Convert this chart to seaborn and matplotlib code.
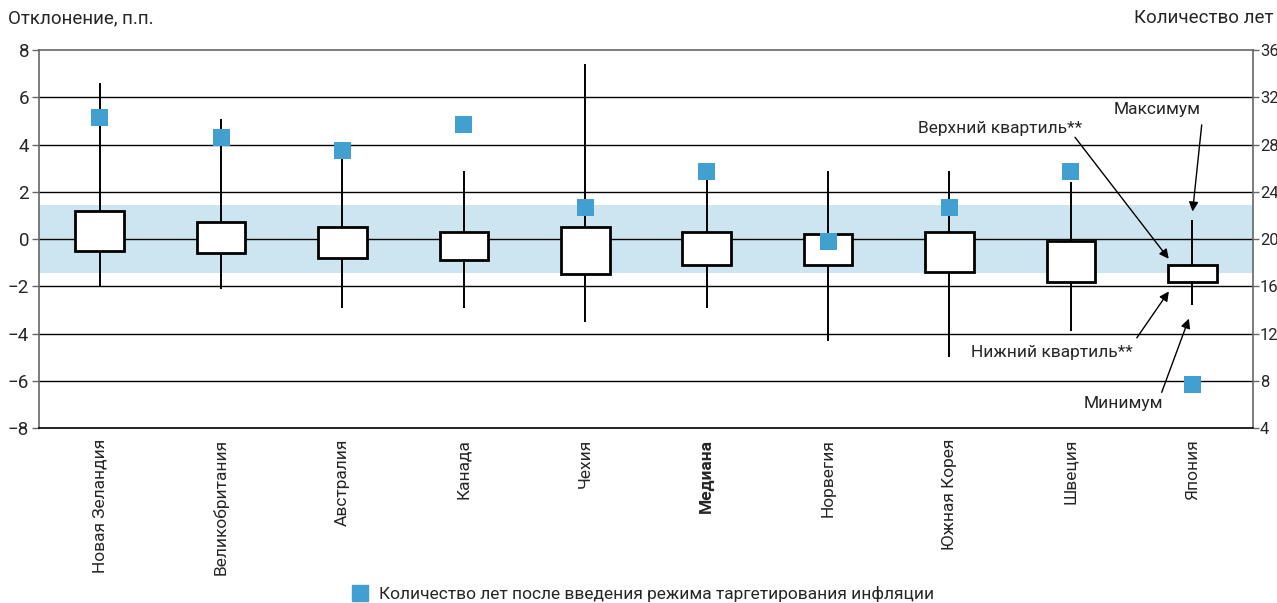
import pandas as pd
import seaborn as sns
import matplotlib.pyplot as plt
from matplotlib.lines import Line2D
from matplotlib.ticker import FixedLocator

sns.set_style('white')
plt.rcParams['font.family'] = ['Roboto', 'DejaVu Sans']

countries = ['Новая Зеландия', 'Великобритания', 'Австралия', 'Канада', 'Чехия',
             'Медиана', 'Норвегия', 'Южная Корея', 'Швеция', 'Япония']
dev_min = [-2.0, -2.1, -2.9, -2.9, -3.5, -2.9, -4.3, -5.0, -3.9, -2.8]
dev_q1 = [-0.5, -0.6, -0.8, -0.9, -1.5, -1.1, -1.1, -1.4, -1.8, -1.8]
dev_q3 = [1.2, 0.7, 0.5, 0.3, 0.5, 0.3, 0.2, 0.3, -0.1, -1.1]
dev_max = [6.6, 5.1, 3.6, 2.9, 7.4, 2.7, 2.9, 2.9, 2.4, 0.8]
years = [30.3, 28.6, 27.5, 29.7, 22.7, 25.7, 19.8, 22.7, 25.7, 7.7]

BLUE = '#41a0d0'
BAND = '#cde5f0'

# five points per country -> with whis=(0, 100) the box spans q1..q3, whiskers min..max
rows = []
for c, a, b, d, e in zip(countries, dev_min, dev_q1, dev_q3, dev_max):
    for v in (a, b, (b + d) / 2, d, e):
        rows.append({'country': c, 'value': v})
df = pd.DataFrame(rows)
df_years = pd.DataFrame({'country': countries, 'years': years})

fig = plt.figure(figsize=(12.77, 6.03), dpi=100)
ax = fig.add_axes([0.0305, 0.2902, 0.9507, 0.6268])

ax.axhspan(-1.45, 1.45, color=BAND, lw=0, zorder=0)
for y in range(-6, 8, 2):
    ax.axhline(y, color='black', lw=1.0, zorder=0.5)

sns.boxplot(data=df, x='country', y='value', whis=(0, 100), width=0.4,
            color='white', linecolor='black', linewidth=2.0, showcaps=False,
            medianprops={'visible': False},
            whiskerprops={'linewidth': 1.4}, ax=ax, zorder=2)

ax.set_ylim(-8, 8)
ax.set_xlim(-0.5, 9.5)
ax.set_yticks(range(-8, 9, 2))
ax.set_yticklabels([str(v).replace('-', '\u2212') for v in range(-8, 9, 2)], fontsize=13.5)
ax.set_xlabel('')
ax.set_ylabel('')
ax.tick_params(axis='y', direction='out', length=5, width=1, color='#666666', pad=2)
ax.tick_params(axis='x', which='major', length=0, pad=8)
ax.xaxis.set_minor_locator(FixedLocator([i - 0.5 for i in range(11)]))
ax.tick_params(axis='x', which='minor', direction='out', length=5, width=1, color='#666666')
ax.set_xticks(range(len(countries)))
ax.set_xticklabels(countries, rotation=90, fontsize=12.5)
for lab in ax.get_xticklabels():
    if lab.get_text() == 'Медиана':
        lab.set_fontweight('bold')

for side in ['left', 'right', 'top', 'bottom']:
    ax.spines[side].set_color('#666666')
    ax.spines[side].set_linewidth(1.2)
ax.spines['bottom'].set_color('black')

ax2 = ax.twinx()
sns.scatterplot(data=df_years, x='country', y='years', marker='s', s=150,
                color=BLUE, edgecolor='none', ax=ax2, zorder=5, legend=False)
ax2.set_ylim(4, 36)
ax2.set_yticks(range(4, 37, 4))
ax2.set_yticklabels([str(v) for v in range(4, 37, 4)], fontsize=12)
ax2.set_ylabel('')
ax2.tick_params(axis='y', direction='out', length=4, width=1, color='#666666', pad=1)
for side in ['left', 'right', 'top', 'bottom']:
    ax2.spines[side].set_visible(False)
ax2.set_xlim(-0.5, 9.5)

fig.text(0.006, 0.97, 'Отклонение, п.п.', fontsize=13.5, ha='left', va='center')
fig.text(0.997, 0.97, 'Количество лет', fontsize=13.5, ha='right', va='center')

arrow = dict(arrowstyle='-|>', color='black', lw=1.0, mutation_scale=14)
ax.text(8.71, 5.47, 'Максимум', fontsize=12.5, ha='center', va='center')
ax.annotate('', xy=(9.0, 1.05), xytext=(9.08, 4.95), arrowprops=arrow)
ax.text(7.42, 4.7, 'Верхний квартиль**', fontsize=12.5, ha='center', va='center')
ax.annotate('', xy=(8.82, -0.93), xytext=(8.02, 4.4), arrowprops=arrow)
ax.text(7.84, -4.8, 'Нижний квартиль**', fontsize=12.5, ha='center', va='center')
ax.annotate('', xy=(8.82, -2.12), xytext=(8.53, -4.28), arrowprops=arrow)
ax.text(8.43, -6.95, 'Минимум', fontsize=12.5, ha='center', va='center')
ax.annotate('', xy=(8.98, -3.26), xytext=(8.74, -6.6), arrowprops=arrow)

handles = [Line2D([], [], marker='s', ls='', color=BLUE, markersize=11,
                  label='Количество лет после введения режима таргетирования инфляции')]
fig.legend(handles=handles, loc='lower center', bbox_to_anchor=(0.5, -0.025),
           frameon=False, fontsize=12.5, handletextpad=0.1)

fig.savefig('out.png', dpi=100)
